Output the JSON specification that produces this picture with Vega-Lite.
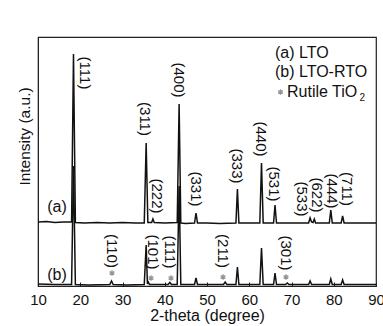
{
  "$schema": "https://vega.github.io/schema/vega-lite/v6.json",
  "autosize": "none",
  "width": 338,
  "height": 249,
  "padding": {"left": 38, "top": 37, "right": 7, "bottom": 40},
  "background": "white",
  "config": {
    "view": {"stroke": "#222", "strokeWidth": 1.2},
    "font": "Liberation Sans"
  },
  "datasets": {
    "xrd": [
      {"t": 10, "I": 64, "s": "a"}, {"t": 12, "I": 64.5, "s": "a"}, {"t": 14, "I": 63.5, "s": "a"}, {"t": 16, "I": 64, "s": "a"},
      {"t": 17.95, "I": 64, "s": "a"}, {"t": 18.4, "I": 232, "s": "a"}, {"t": 18.85, "I": 63.5, "s": "a"},
      {"t": 21, "I": 63, "s": "a"}, {"t": 24, "I": 63.5, "s": "a"}, {"t": 27, "I": 63, "s": "a"}, {"t": 30, "I": 63.5, "s": "a"}, {"t": 33, "I": 63, "s": "a"},
      {"t": 35.15, "I": 63, "s": "a"}, {"t": 35.6, "I": 143, "s": "a"}, {"t": 36.0, "I": 63.5, "s": "a"},
      {"t": 36.9, "I": 63.5, "s": "a"}, {"t": 37.2, "I": 67, "s": "a"}, {"t": 37.5, "I": 63.5, "s": "a"},
      {"t": 40, "I": 63, "s": "a"}, {"t": 42.95, "I": 63.5, "s": "a"}, {"t": 43.4, "I": 182, "s": "a"}, {"t": 43.8, "I": 63, "s": "a"},
      {"t": 45, "I": 62.5, "s": "a"}, {"t": 47.05, "I": 63, "s": "a"}, {"t": 47.4, "I": 73, "s": "a"}, {"t": 47.75, "I": 63, "s": "a"},
      {"t": 50, "I": 63, "s": "a"}, {"t": 53, "I": 62.5, "s": "a"}, {"t": 56.85, "I": 63, "s": "a"}, {"t": 57.2, "I": 97, "s": "a"}, {"t": 57.55, "I": 63, "s": "a"},
      {"t": 60, "I": 63, "s": "a"}, {"t": 62.5, "I": 63, "s": "a"}, {"t": 62.9, "I": 123, "s": "a"}, {"t": 63.3, "I": 63, "s": "a"},
      {"t": 65.75, "I": 63, "s": "a"}, {"t": 66.1, "I": 81, "s": "a"}, {"t": 66.45, "I": 63, "s": "a"},
      {"t": 70, "I": 63, "s": "a"}, {"t": 74.05, "I": 63, "s": "a"}, {"t": 74.4, "I": 68, "s": "a"}, {"t": 74.75, "I": 64, "s": "a"},
      {"t": 75.1, "I": 63.5, "s": "a"}, {"t": 75.4, "I": 67, "s": "a"}, {"t": 75.7, "I": 63, "s": "a"},
      {"t": 78.95, "I": 63, "s": "a"}, {"t": 79.3, "I": 76, "s": "a"}, {"t": 79.65, "I": 63, "s": "a"},
      {"t": 81.75, "I": 63, "s": "a"}, {"t": 82.1, "I": 70, "s": "a"}, {"t": 82.45, "I": 63, "s": "a"},
      {"t": 86, "I": 63, "s": "a"}, {"t": 90, "I": 63, "s": "a"},
      {"t": 10, "I": 2, "s": "b"}, {"t": 14, "I": 1.5, "s": "b"}, {"t": 17.95, "I": 1.5, "s": "b"}, {"t": 18.4, "I": 120, "s": "b"}, {"t": 18.85, "I": 1.5, "s": "b"},
      {"t": 22, "I": 1, "s": "b"}, {"t": 27.0, "I": 1.5, "s": "b"}, {"t": 27.4, "I": 5, "s": "b"}, {"t": 27.8, "I": 1.5, "s": "b"},
      {"t": 31, "I": 1, "s": "b"}, {"t": 35.15, "I": 1.5, "s": "b"}, {"t": 35.6, "I": 41, "s": "b"}, {"t": 35.9, "I": 2, "s": "b"},
      {"t": 36.1, "I": 4, "s": "b"}, {"t": 36.4, "I": 1.5, "s": "b"}, {"t": 40.8, "I": 1.5, "s": "b"}, {"t": 41.2, "I": 3.5, "s": "b"}, {"t": 41.6, "I": 1.5, "s": "b"},
      {"t": 42.95, "I": 1.5, "s": "b"}, {"t": 43.4, "I": 100, "s": "b"}, {"t": 43.8, "I": 1.5, "s": "b"},
      {"t": 47.05, "I": 1.5, "s": "b"}, {"t": 47.4, "I": 8, "s": "b"}, {"t": 47.75, "I": 1.5, "s": "b"},
      {"t": 50, "I": 1.5, "s": "b"}, {"t": 53.9, "I": 1.5, "s": "b"}, {"t": 54.3, "I": 4, "s": "b"}, {"t": 54.7, "I": 1.5, "s": "b"},
      {"t": 56.85, "I": 1.5, "s": "b"}, {"t": 57.2, "I": 19, "s": "b"}, {"t": 57.55, "I": 1.5, "s": "b"},
      {"t": 62.5, "I": 1.5, "s": "b"}, {"t": 62.9, "I": 38, "s": "b"}, {"t": 63.3, "I": 1.5, "s": "b"},
      {"t": 65.75, "I": 1.5, "s": "b"}, {"t": 66.1, "I": 13, "s": "b"}, {"t": 66.45, "I": 1.5, "s": "b"},
      {"t": 68.6, "I": 1.5, "s": "b"}, {"t": 69.0, "I": 3, "s": "b"}, {"t": 69.4, "I": 1.5, "s": "b"},
      {"t": 74.05, "I": 1.5, "s": "b"}, {"t": 74.4, "I": 5, "s": "b"}, {"t": 74.75, "I": 1.5, "s": "b"},
      {"t": 78.95, "I": 1.5, "s": "b"}, {"t": 79.3, "I": 7, "s": "b"}, {"t": 79.65, "I": 1.5, "s": "b"},
      {"t": 81.75, "I": 1.5, "s": "b"}, {"t": 82.1, "I": 6, "s": "b"}, {"t": 82.45, "I": 1.5, "s": "b"},
      {"t": 86, "I": 1.5, "s": "b"}, {"t": 90, "I": 1.5, "s": "b"}
    ],
    "peakLabels": [
      {"t": 21.12, "I": 213, "label": "(111)"},
      {"t": 35.33, "I": 167, "label": "(311)"},
      {"t": 43.37, "I": 206, "label": "(400)"},
      {"t": 38.17, "I": 90, "label": "(222)"},
      {"t": 47.40, "I": 97, "label": "(331)"},
      {"t": 57.10, "I": 120, "label": "(333)"},
      {"t": 62.78, "I": 147, "label": "(440)"},
      {"t": 65.86, "I": 102, "label": "(531)"},
      {"t": 72.49, "I": 87, "label": "(533)"},
      {"t": 76.04, "I": 91, "label": "(622)"},
      {"t": 79.59, "I": 95, "label": "(444)"},
      {"t": 83.14, "I": 97, "label": "(711)"},
      {"t": 27.51, "I": 35, "label": "(110)"},
      {"t": 37.22, "I": 34, "label": "(101)"},
      {"t": 41.24, "I": 34, "label": "(111)"},
      {"t": 53.79, "I": 35, "label": "(211)"},
      {"t": 68.70, "I": 33, "label": "(301)"}
    ],
    "stars": [
      {"t": 27.51, "I": 13},
      {"t": 36.75, "I": 8},
      {"t": 41.48, "I": 8},
      {"t": 53.79, "I": 9},
      {"t": 68.70, "I": 9},
      {"t": 67.4, "I": 194}
    ],
    "texts": [
      {"t": 14.5, "I": 79, "label": "(a)"},
      {"t": 14.5, "I": 11, "label": "(b)"}
    ],
    "legendTexts": [
      {"t": 66.09, "I": 233, "label": "(a) LTO"},
      {"t": 66.09, "I": 214, "label": "(b) LTO-RTO"},
      {"t": 68.93, "I": 194, "label": "Rutile TiO"}
    ],
    "subs": [
      {"t": 86.1, "I": 188, "label": "2"}
    ]
  },
  "layer": [
    {
      "data": {"name": "xrd"},
      "mark": {"type": "line", "color": "#111", "strokeWidth": 1.5, "interpolate": "linear"},
      "encoding": {
        "x": {
          "field": "t", "type": "quantitative",
          "scale": {"domain": [10, 90], "nice": false, "zero": false},
          "axis": {
            "values": [10, 15, 20, 25, 30, 35, 40, 45, 50, 55, 60, 65, 70, 75, 80, 85, 90],
            "labelExpr": "datum.value % 10 == 0 ? datum.label : ''",
            "grid": false,
            "tickSize": -4,
            "tickColor": "#222",
            "domainColor": "#222",
            "labelColor": "#111",
            "labelFontSize": 15,
            "labelPadding": 10,
            "labelFlush": false,
            "labelOverlap": false,
            "title": "2-theta (degree)",
            "titleFontSize": 16,
            "titleFontWeight": "normal",
            "titleColor": "#111",
            "titlePadding": 0
          }
        },
        "y": {
          "field": "I", "type": "quantitative",
          "scale": {"domain": [0, 249], "nice": false},
          "axis": {
            "labels": false,
            "ticks": false,
            "grid": false,
            "domainColor": "#222",
            "title": "Intensity (a.u.)",
            "titleFontSize": 15.5,
            "titleFontWeight": "normal",
            "titleColor": "#111",
            "titleBaseline": "middle",
            "titleX": -14,
            "titleY": 99
          }
        },
        "detail": {"field": "s"}
      }
    },
    {
      "data": {"name": "peakLabels"},
      "mark": {"type": "text", "angle": 90, "align": "center", "baseline": "middle", "fontSize": 15, "color": "#111"},
      "encoding": {
        "x": {"field": "t", "type": "quantitative"},
        "y": {"field": "I", "type": "quantitative"},
        "text": {"field": "label"}
      }
    },
    {
      "data": {"name": "stars"},
      "mark": {"type": "point", "shape": "M0,-1L0,1M-0.87,-0.5L0.87,0.5M-0.87,0.5L0.87,-0.5", "size": 30, "stroke": "#666", "strokeWidth": 1.3, "filled": false},
      "encoding": {
        "x": {"field": "t", "type": "quantitative"},
        "y": {"field": "I", "type": "quantitative"}
      }
    },
    {
      "data": {"name": "texts"},
      "mark": {"type": "text", "align": "center", "baseline": "middle", "fontSize": 16, "color": "#111"},
      "encoding": {
        "x": {"field": "t", "type": "quantitative"},
        "y": {"field": "I", "type": "quantitative"},
        "text": {"field": "label"}
      }
    },
    {
      "data": {"name": "legendTexts"},
      "mark": {"type": "text", "align": "left", "baseline": "middle", "fontSize": 16, "color": "#111"},
      "encoding": {
        "x": {"field": "t", "type": "quantitative"},
        "y": {"field": "I", "type": "quantitative"},
        "text": {"field": "label"}
      }
    },
    {
      "data": {"name": "subs"},
      "mark": {"type": "text", "align": "left", "baseline": "middle", "fontSize": 10, "color": "#111"},
      "encoding": {
        "x": {"field": "t", "type": "quantitative"},
        "y": {"field": "I", "type": "quantitative"},
        "text": {"field": "label"}
      }
    }
  ]
}
